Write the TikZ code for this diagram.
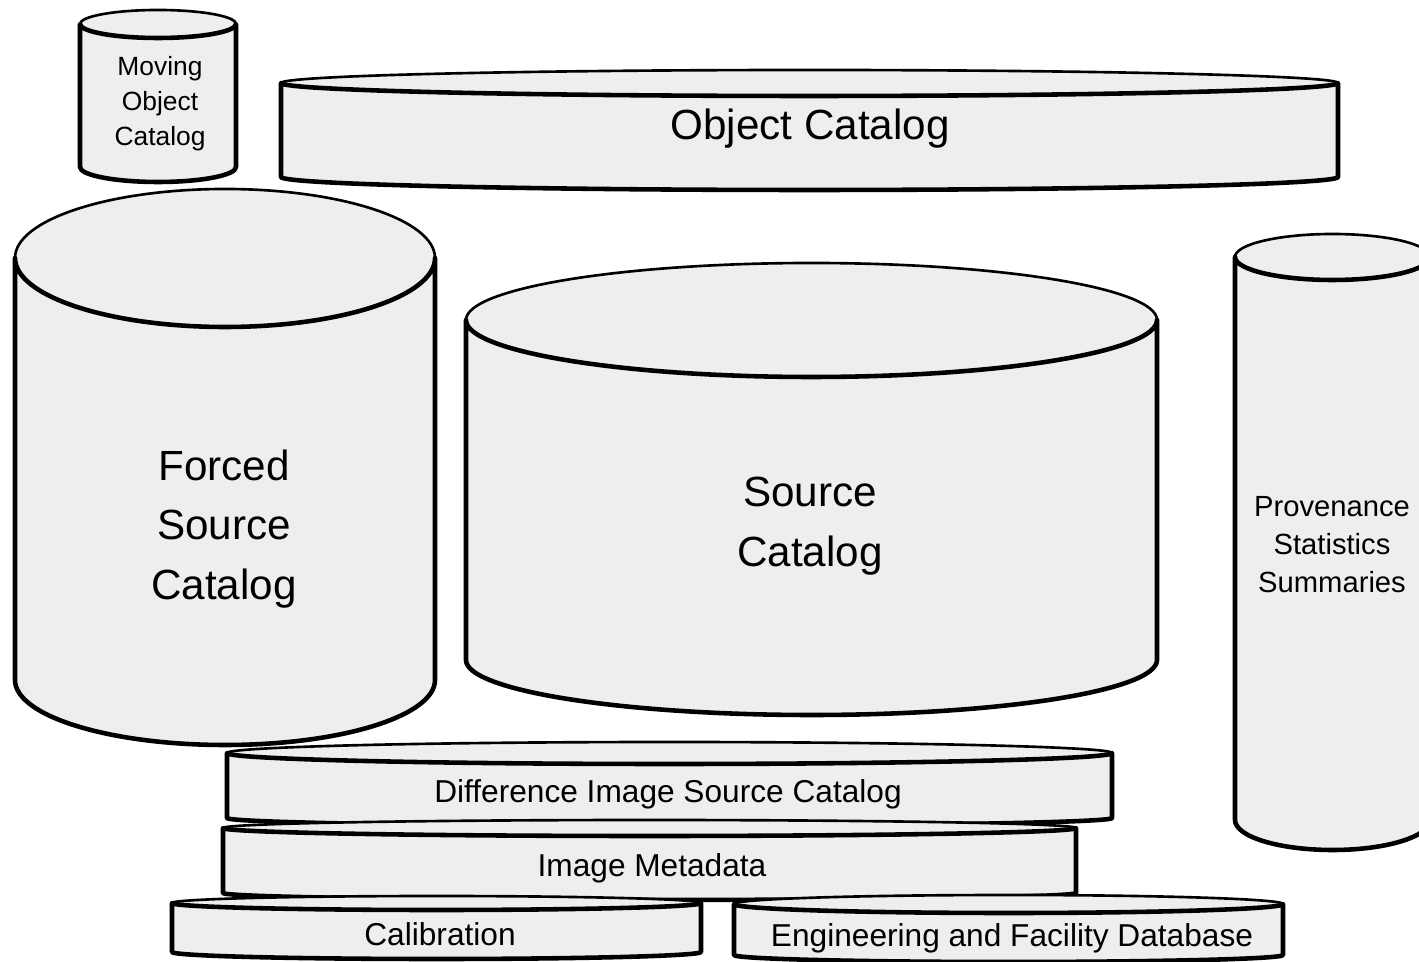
\documentclass[tikz,border=0pt]{standalone}
\usepackage{fontspec}
\setmainfont{Liberation Sans}
\usepackage{tikz}
\usetikzlibrary{positioning}
\usepackage{xcolor}
\definecolor{dbfill}{RGB}{238,238,238}

% one database drum: left x, right x, top side y, bottom side y, top radius, bottom radius
\newcommand{\dbcyl}[6]{%
  \fill[dbfill] (#1,#3) arc[start angle=180,end angle=0,x radius={(#2-#1)/2},y radius=#5]
    -- (#2,#4) arc[start angle=0,end angle=-180,x radius={(#2-#1)/2},y radius=#6] -- cycle;
  \draw[rimline] (#1,#3) arc[start angle=180,end angle=0,x radius={(#2-#1)/2},y radius=#5];
  \draw[wallline] (#1,#3) arc[start angle=180,end angle=360,x radius={(#2-#1)/2},y radius=#5]
    -- (#2,#4) arc[start angle=0,end angle=-180,x radius={(#2-#1)/2},y radius=#6] -- cycle;
}

\begin{document}
\begin{tikzpicture}[x=0.01cm,y=0.01cm,
    rimline/.style={line width=0.75pt},
    wallline/.style={line width=1.3pt,line join=round},
    bigtext/.style={font=\fontsize{12}{17}\selectfont,align=center},
    midtext/.style={font=\fontsize{9}{11}\selectfont,align=center},
    smalltext/.style={font=\fontsize{8.3}{10.8}\selectfont,align=center},
    tinytext/.style={font=\fontsize{7.5}{10}\selectfont,align=center}]
    \useasboundingbox (0,0) rectangle (1419,961);
    % top row
    \dbcyl{80}{236}{937}{794}{14}{15}
    \node[tinytext] (moving) at (160,857) {Moving\\Object\\Catalog};
    \dbcyl{281}{1338}{878}{784}{13}{13}
    \node[bigtext] (object) at (810,832) {Object Catalog};
    % big catalogs
    \dbcyl{15}{435}{703}{281}{69}{65}
    \node[bigtext] (forced) at (224,432) {Forced\\Source\\Catalog};
    \dbcyl{466}{1157}{641}{301}{57}{55}
    \node[bigtext] (source) at (810,435) {Source\\Catalog};
    \dbcyl{1235}{1430}{704}{141}{23}{30}
    \node[smalltext] (prov) at (1332,416) {Provenance\\Statistics\\Summaries};
    % stacked tables at the bottom
    \dbcyl{227}{1112}{208}{143}{11}{8}
    \node[midtext] (diasrc) at (668,167) {Difference Image Source Catalog};
    \dbcyl{223}{1076}{133}{68}{8}{7}
    \node[midtext] (imgmeta) at (652,93) {Image Metadata};
    \dbcyl{172}{701}{58}{9}{7}{7}
    \node[midtext] (calib) at (440,27) {Calibration};
    \dbcyl{734}{1283}{57}{6}{9}{7}
    \node[midtext] (efd) at (1012,23) {Engineering and Facility Database};
\end{tikzpicture}
\end{document}
